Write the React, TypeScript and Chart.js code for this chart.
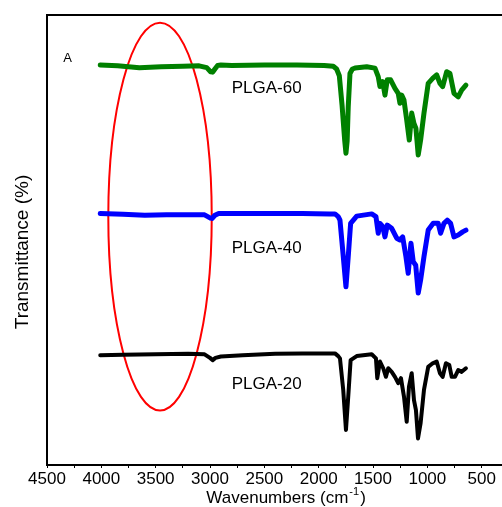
import { useEffect, useRef } from "react";
import { Chart, registerables } from "chart.js";

Chart.register(...registerables);

const FONT = "'Liberation Sans', Arial, Helvetica, sans-serif";

// Axis
const xMin = 313;
const xMax = 4500;
const xStep = 250;
const xLabelStep = 500;
const yMin = 0;
const yMax = 100;

// Series: [wavenumber (cm-1), transmittance (arb.)]
const plga60: [number, number][] = [
  [4010, 88.9], [3850, 88.7], [3650, 88.3], [3450, 88.5], [3250, 88.6], [3100, 88.7],
  [3030, 88.3], [2995, 87.4], [2975, 87.3], [2955, 88.0], [2930, 88.8], [2900, 88.9],
  [2800, 88.8], [2500, 88.9], [2200, 88.9], [1950, 88.8], [1866, 88.6], [1835, 88.0],
  [1810, 86.5], [1785, 80.0], [1760, 72.0], [1749, 69.3], [1738, 72.0], [1728, 79.6],
  [1712, 87.0], [1690, 88.0], [1666, 88.2], [1558, 88.5], [1482, 88.2], [1452, 86.3],
  [1436, 84.1], [1411, 85.2], [1390, 82.2], [1369, 85.6], [1338, 85.6], [1298, 83.7],
  [1268, 82.6], [1252, 80.4], [1236, 82.2], [1215, 81.1], [1190, 76.7], [1166, 72.2],
  [1144, 78.2], [1123, 75.9], [1105, 74.8], [1084, 68.9], [1062, 72.2], [1031, 78.2],
  [992, 84.8], [951, 85.9], [914, 86.7], [884, 84.8], [859, 84.1], [822, 87.4],
  [792, 87.0], [755, 82.6], [716, 81.8], [684, 83.3], [645, 84.4],
];

const plga40: [number, number][] = [
  [4010, 55.9], [3800, 55.7], [3600, 55.5], [3400, 55.6], [3200, 55.6], [3050, 55.6],
  [3000, 54.9], [2980, 54.8], [2955, 55.5], [2920, 55.9], [2700, 55.9], [2400, 55.9],
  [2150, 55.9], [1900, 55.8], [1850, 55.8], [1820, 55.2], [1804, 54.4], [1779, 47.8],
  [1749, 39.6], [1728, 46.3], [1706, 53.7], [1650, 55.3], [1512, 55.8], [1473, 55.2],
  [1452, 51.5], [1436, 53.7], [1411, 53.0], [1390, 50.7], [1369, 53.3], [1328, 52.6],
  [1282, 50.4], [1252, 50.0], [1227, 50.7], [1197, 46.3], [1176, 42.6], [1151, 49.3],
  [1130, 45.2], [1107, 44.4], [1084, 38.2], [1062, 41.1], [1031, 46.3], [992, 52.2],
  [946, 53.7], [900, 53.7], [878, 51.5], [847, 53.7], [817, 54.4], [786, 53.7],
  [755, 50.7], [716, 51.1], [675, 51.8], [645, 52.2],
];

const plga20: [number, number][] = [
  [4010, 24.4], [3800, 24.5], [3500, 24.6], [3200, 24.7], [3050, 24.6], [3000, 23.8],
  [2975, 23.3], [2950, 23.8], [2900, 24.1], [2700, 24.4], [2400, 24.7], [2150, 24.8],
  [1900, 24.8], [1850, 24.8], [1820, 24.2], [1804, 23.7], [1774, 16.7], [1749, 7.8],
  [1728, 15.2], [1706, 23.3], [1650, 24.2], [1512, 24.6], [1473, 23.7], [1461, 19.3],
  [1436, 23.0], [1406, 21.5], [1381, 19.6], [1360, 21.5], [1328, 20.7], [1298, 19.6],
  [1268, 18.2], [1243, 19.3], [1215, 15.2], [1190, 9.6], [1169, 17.4], [1144, 20.4],
  [1123, 14.4], [1105, 12.2], [1086, 5.9], [1062, 9.3], [1031, 16.7], [992, 21.8],
  [951, 22.6], [914, 23.0], [884, 20.4], [859, 19.6], [829, 22.6], [798, 22.2],
  [776, 19.6], [746, 19.6], [716, 21.1], [684, 20.7], [645, 21.5],
];

const seriesNames = ["PLGA-60", "PLGA-40", "PLGA-20"];
const seriesColors = ["#008000", "#0000ff", "#000000"];
const seriesWidths = [5, 5, 4];
const seriesLabelPos: [number, number][] = [
  [2800, 83.6],
  [2800, 48.2],
  [2800, 18.0],
];

const panelLetter = "A";
const panelLetterPos: [number, number] = [4350, 90.4];

// highlighted region (ellipse) in data units
const ellipseCenter: [number, number] = [3460, 55.2];
const ellipseRadii: [number, number] = [476, 43.1];

const xTitleMain = "Wavenumbers (cm";
const xTitleSup = "-1";
const xTitleEnd = ")";
const xTitleCenter = 2300;
const yTitle = "Transmittance (%)";

const decorPlugin = {
  id: "decor",
  beforeDatasetsDraw(chart: any) {
    const { ctx, scales } = chart;
    const xs = scales.x;
    const ys = scales.y;
    const cx = xs.getPixelForValue(ellipseCenter[0]);
    const cy = ys.getPixelForValue(ellipseCenter[1]);
    const rx = Math.abs(xs.getPixelForValue(ellipseCenter[0] + ellipseRadii[0]) - cx);
    const ry = Math.abs(ys.getPixelForValue(ellipseCenter[1] + ellipseRadii[1]) - cy);
    ctx.save();
    ctx.strokeStyle = "#ff0000";
    ctx.lineWidth = 2;
    ctx.beginPath();
    ctx.ellipse(cx, cy, rx, ry, 0, 0, Math.PI * 2);
    ctx.stroke();
    ctx.restore();
  },
  afterDraw(chart: any) {
    const { ctx, scales, chartArea, width } = chart;
    const xs = scales.x;
    const ys = scales.y;
    ctx.save();
    // top frame line
    ctx.strokeStyle = "#000";
    ctx.lineWidth = 2;
    ctx.beginPath();
    ctx.moveTo(chartArea.left - 1, chartArea.top);
    ctx.lineTo(width, chartArea.top);
    ctx.stroke();

    // series labels
    ctx.fillStyle = "#000";
    ctx.textAlign = "left";
    ctx.textBaseline = "middle";
    ctx.font = `17px ${FONT}`;
    seriesNames.forEach((name, i) => {
      ctx.fillText(
        name,
        xs.getPixelForValue(seriesLabelPos[i][0]),
        ys.getPixelForValue(seriesLabelPos[i][1])
      );
    });
    ctx.font = `13px ${FONT}`;
    ctx.fillText(
      panelLetter,
      xs.getPixelForValue(panelLetterPos[0]),
      ys.getPixelForValue(panelLetterPos[1])
    );

    // x title with superscript
    ctx.textBaseline = "alphabetic";
    ctx.font = `17px ${FONT}`;
    const wMain = ctx.measureText(xTitleMain).width;
    const wEnd = ctx.measureText(xTitleEnd).width;
    ctx.font = `11px ${FONT}`;
    const wSup = ctx.measureText(xTitleSup).width;
    const total = wMain + wSup + wEnd + 2;
    let tx = xs.getPixelForValue(xTitleCenter) - total / 2;
    const baseY = chartArea.bottom + 38;
    ctx.font = `17px ${FONT}`;
    ctx.fillText(xTitleMain, tx, baseY);
    tx += wMain + 1;
    ctx.font = `11px ${FONT}`;
    ctx.fillText(xTitleSup, tx, baseY - 8);
    tx += wSup + 1;
    ctx.font = `17px ${FONT}`;
    ctx.fillText(xTitleEnd, tx, baseY);

    // y title
    ctx.translate(23, (chartArea.top + chartArea.bottom) / 2 + 12);
    ctx.rotate(-Math.PI / 2);
    ctx.textAlign = "center";
    ctx.textBaseline = "middle";
    ctx.font = `19px ${FONT}`;
    ctx.fillText(yTitle, 0, 0);
    ctx.restore();
  },
};

export default function App() {
  const canvasRef = useRef<HTMLCanvasElement | null>(null);

  useEffect(() => {
    const canvas = canvasRef.current;
    if (!canvas) return;
    const toPts = (arr: [number, number][]) => arr.map(([x, y]) => ({ x, y }));
    const datasets = [plga60, plga40, plga20].map((d, i) => ({
      label: seriesNames[i],
      data: toPts(d),
      borderColor: seriesColors[i],
      backgroundColor: seriesColors[i],
      borderWidth: seriesWidths[i],
      pointRadius: 0,
      fill: false,
      tension: 0,
      borderJoinStyle: "round" as const,
      borderCapStyle: "round" as const,
    }));

    const chart = new Chart(canvas, {
      type: "line",
      data: { datasets },
      plugins: [decorPlugin],
      options: {
        animation: false,
        responsive: false,
        devicePixelRatio: 1,
        parsing: false,
        layout: { padding: { top: 15, right: 0, left: 0, bottom: 0 } },
        plugins: {
          legend: { display: false },
          tooltip: { enabled: false },
        },
        scales: {
          x: {
            type: "linear",
            reverse: true,
            min: xMin,
            max: xMax,
            afterFit: (s: any) => {
              s.height = 42;
            },
            ticks: {
              stepSize: xStep,
              includeBounds: false,
              autoSkip: false,
              maxRotation: 0,
              minRotation: 0,
              color: "#000",
              padding: 1,
              font: { family: FONT, size: 17 },
              callback: (v: any) => (Number(v) % xLabelStep === 0 ? String(v) : ""),
            },
            grid: {
              drawOnChartArea: false,
              drawTicks: true,
              tickLength: 3,
              color: "#000",
              lineWidth: 1,
            },
            border: { display: true, color: "#000", width: 2 },
          },
          y: {
            type: "linear",
            min: yMin,
            max: yMax,
            afterFit: (s: any) => {
              s.width = 47;
            },
            ticks: { display: false },
            grid: { drawOnChartArea: false, drawTicks: false },
            border: { display: true, color: "#000", width: 2 },
          },
        },
      },
    });
    return () => chart.destroy();
  }, []);

  return (
    <div style={{ position: "fixed", left: 0, top: 0, width: 502, height: 507, background: "#fff" }}>
      <canvas ref={canvasRef} width={502} height={507} style={{ display: "block" }} />
    </div>
  );
}
